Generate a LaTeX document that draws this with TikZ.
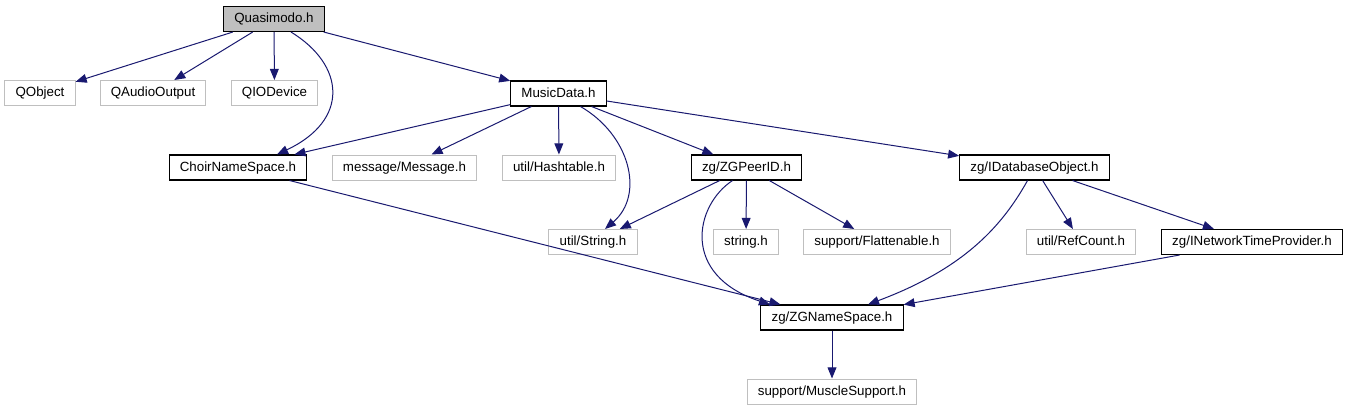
\documentclass[tikz,border=0pt]{standalone}
\usepackage{fontspec}
\setmainfont{Liberation Sans}
\usepackage{xcolor}
\usetikzlibrary{arrows.meta,calc}
\definecolor{edgeblue}{HTML}{191970}
\definecolor{boxgray}{HTML}{BFBFBF}

\begin{document}
\begin{tikzpicture}[
  x=0.75pt, y=-0.75pt,
  font=\fontsize{10}{12}\selectfont,
  hdr/.style  = {draw=black, line width=0.8pt, fill=white,
                 minimum height=18.75pt, inner xsep=8pt, inner ysep=0pt,
                 text height=7.4pt, text depth=2pt},
  ext/.style  = {hdr, draw=boxgray, line width=0.75pt},
  root/.style = {hdr, fill=boxgray},
  dep/.style  = {-{Triangle[length=8.3pt,width=6.6pt]}, draw=edgeblue,
                 line width=0.75pt}
]
\path[use as bounding box, fill=white] (0,0) rectangle (1348,411);

%%%%%%%%%%%%%%%%%%%%%%% HEADERS %%%%%%%%%%%%%%%%%%%%%%%%%%%%%%%%%%%%%%%%%%%%%%
\node[root] (quasi)   at (274,19)      {Quasimodo.h};

\node[ext]  (qobj)    at (40,93)       {QObject};
\node[ext]  (qaudio)  at (153,93)      {QAudioOutput};
\node[ext]  (qiodev)  at (274.5,93)    {QIODevice};
\node[hdr]  (music)   at (558.5,93.5)  {MusicData.h};

\node[hdr]  (choir)   at (238,167.5)   {ChoirNameSpace.h};
\node[ext]  (msg)     at (404.5,167.5) {message/Message.h};
\node[ext]  (hashtab) at (559,167.5)   {util/Hashtable.h};
\node[hdr]  (peerid)  at (746.5,167.5) {zg/ZGPeerID.h};
\node[hdr]  (idbobj)  at (1034.5,167.5){zg/IDatabaseObject.h};

\node[ext]  (ustring) at (593,242)     {util/String.h};
\node[ext]  (cstring) at (746,242)     {string.h};
\node[ext]  (flat)    at (877,242)     {support/Flattenable.h};
\node[ext]  (refcnt)  at (1081,242)    {util/RefCount.h};
\node[hdr]  (ntp)     at (1252,242)    {zg/INetworkTimeProvider.h};

\node[hdr]  (zgns)    at (832,317.5)   {zg/ZGNameSpace.h};
\node[ext]  (muscle)  at (832,391.5)   {support/MuscleSupport.h};

%%%%%%%%%%%%%%%%%%%%%%% INCLUDES %%%%%%%%%%%%%%%%%%%%%%%%%%%%%%%%%%%%%%%%%%%%%
\draw[dep] (quasi) -- (qobj);
\draw[dep] (quasi) -- (qaudio);
\draw[dep] (quasi) -- (qiodev);
\draw[dep] ($(quasi.south)+(17,0)$) .. controls (345,65) and (350,120)
           .. ($(choir.north)+(39,0)$);
\draw[dep] (quasi) -- (music);

\draw[dep] (music) -- (choir);
\draw[dep] (music) -- (msg);
\draw[dep] (music) -- (hashtab);
\draw[dep] ($(music.south)+(22,0)$) .. controls (630,135) and (645,195)
           .. ($(ustring.north)+(12,0)$);
\draw[dep] (music) -- (peerid);
\draw[dep] (music) -- (idbobj);

\draw[dep] (choir) -- (zgns);

\draw[dep] (peerid) -- (ustring);
\draw[dep] ($(peerid.south)+(-14,0)$) .. controls (695,205) and (680,275)
           .. ($(zgns.north)+(-62,0)$);
\draw[dep] (peerid) -- (cstring);
\draw[dep] (peerid) -- (flat);

\draw[dep] ($(idbobj.south)+(-7,0)$) .. controls (1000,230) and (960,270)
           .. ($(zgns.north)+(36,0)$);
\draw[dep] (idbobj) -- (refcnt);
\draw[dep] (idbobj) -- (ntp);
\draw[dep] (ntp) -- (zgns);

\draw[dep] (zgns) -- (muscle);

\end{tikzpicture}
\end{document}
